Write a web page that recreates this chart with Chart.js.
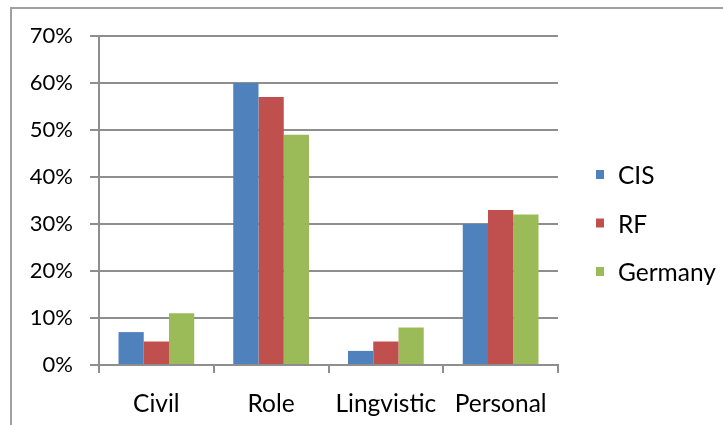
<!DOCTYPE html>
<html>
<head>
<meta charset="utf-8">
<script src="https://cdn.jsdelivr.net/npm/chart.js@4.4.1/dist/chart.umd.min.js"></script>
<style>
  html, body { margin: 0; padding: 0; background: #fff; overflow: hidden; }
  #wrap { position: relative; width: 723px; height: 425px; }
  #frame {
    position: absolute; left: 10px; top: 7px; width: 800px; height: 500px;
    border: 2px solid #a0a0a0; box-sizing: border-box;
  }
  #chart { position: absolute; left: 0; top: 0; }
</style>
</head>
<body>
<div id="wrap">
  <div id="frame"></div>
  <canvas id="chart" width="723" height="425"></canvas>
</div>
<script>
/* data */
const categories = ["Civil", "Role", "Lingvistic", "Personal"];
const cisValues = [7, 60, 3, 30];
const rfValues = [5, 57, 5, 33];
const germanyValues = [11, 49, 8, 32];
const yTicks = [0, 10, 20, 30, 40, 50, 60, 70];

const axisGray = '#8e8e8e';
const fontFamily = "Lato, 'Liberation Sans', sans-serif";

const ctx = document.getElementById('chart').getContext('2d');

// legend on the right: small square swatch + series name, one per row
const sideLegend = {
  id: 'sideLegend',
  afterDraw(chart, args, opts) {
    const c = chart.ctx;
    c.save();
    c.font = opts.fontSize + 'px ' + fontFamily;
    c.textBaseline = 'middle';
    c.textAlign = 'left';
    chart.data.datasets.forEach((ds, i) => {
      const y = opts.top + i * opts.step;
      c.fillStyle = ds.backgroundColor;
      c.fillRect(opts.left, y - opts.boxHeight / 2, opts.boxWidth, opts.boxHeight);
      c.fillStyle = '#000';
      c.fillText(ds.label, opts.left + opts.textGap, y + 2);
    });
    c.restore();
  }
};

const chartData = {
  labels: categories,
  datasets: [{
    label: 'CIS',
    data: cisValues,
    backgroundColor: '#4f81bd'
  }, {
    label: 'RF',
    data: rfValues,
    backgroundColor: '#c0504d'
  }, {
    label: 'Germany',
    data: germanyValues,
    backgroundColor: '#9bbb59'
  }]
};

const chartOptions = {
  responsive: false,
  animation: false,
  layout: {
    padding: { left: 0, right: 165, top: 36, bottom: 0 }
  },
  datasets: {
    bar: {
      barPercentage: 1,
      categoryPercentage: 0.66,
      borderWidth: 0
    }
  },
  scales: {
    x: {
      grid: {
        drawOnChartArea: false,
        drawTicks: true,
        tickLength: 8,
        color: axisGray,
        lineWidth: 2
      },
      border: { color: axisGray, width: 2 },
      ticks: {
        color: '#000',
        padding: 16,
        font: { family: fontFamily, size: 24.5 }
      },
      afterFit: scale => { scale.height = 60; }
    },
    y: {
      min: 0,
      max: 70,
      afterBuildTicks: scale => {
        scale.ticks = yTicks.map(v => ({ value: v }));
      },
      grid: {
        color: axisGray,
        lineWidth: 2,
        tickLength: 9
      },
      border: { color: axisGray, width: 2 },
      ticks: {
        color: '#000',
        padding: 17,
        font: { family: fontFamily, size: 22 },
        callback: v => v + '%'
      },
      afterFit: scale => { scale.width = 99; }
    }
  },
  plugins: {
    legend: { display: false },
    tooltip: { enabled: false },
    sideLegend: {
      left: 596,
      top: 174.5,
      step: 48.5,
      boxWidth: 8,
      boxHeight: 9,
      textGap: 22,
      fontSize: 24.5
    }
  }
};

const barChart = new Chart(ctx, {
  type: 'bar',
  data: chartData,
  options: chartOptions,
  plugins: [sideLegend]
});
</script>
</body>
</html>
